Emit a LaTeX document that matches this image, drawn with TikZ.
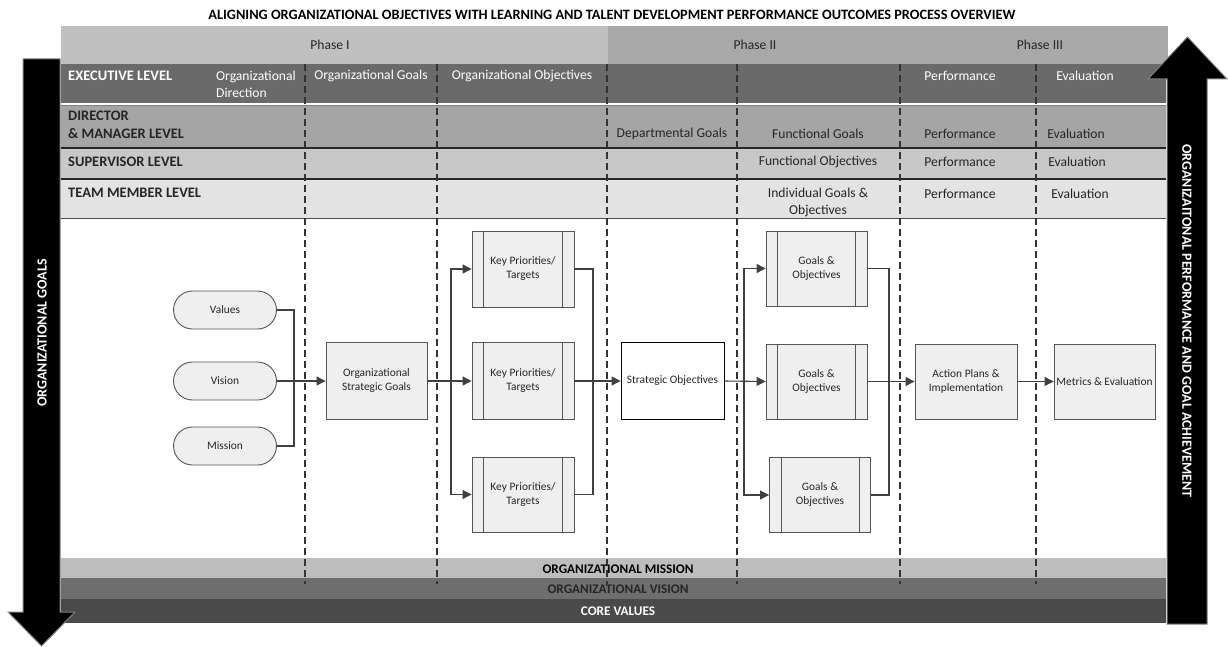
\documentclass[tikz,border=0pt]{standalone}
\usepackage{fontspec}
\setmainfont{Carlito}
\usetikzlibrary{arrows.meta,calc}
\definecolor{phaseA}{HTML}{C0C0C0}
\definecolor{phaseB}{HTML}{A8A8A8}
\definecolor{execC}{HTML}{6A6A6A}
\definecolor{dirC}{HTML}{A5A5A5}
\definecolor{supC}{HTML}{C8C8C8}
\definecolor{teamC}{HTML}{E3E3E3}
\definecolor{missC}{HTML}{BDBDBD}
\definecolor{visC}{HTML}{6E6E6E}
\definecolor{coreC}{HTML}{4A4A4A}
\definecolor{lineC}{HTML}{404040}
\definecolor{boxC}{HTML}{EFEFEF}
\definecolor{boxD}{HTML}{555555}
\definecolor{txtC}{HTML}{262626}
\definecolor{sepC}{HTML}{333333}
\tikzset{
  hdr/.style={font=\fontsize{13.6}{17}\selectfont, text=txtC, inner sep=0pt, align=center},
  hdrw/.style={hdr, text=white},
  lvl/.style={font=\bfseries\fontsize{14.5}{18}\selectfont, text=txtC, inner sep=0pt, anchor=west, align=left},
  band/.style={font=\bfseries\fontsize{13.2}{14}\selectfont, inner sep=0pt},
  flow/.style={draw=lineC, line width=1.1pt},
  arr/.style={flow, -{Triangle[length=9pt,width=9pt]}},
  box/.style={draw=boxD, fill=boxC, line width=0.9pt, minimum width=102pt, minimum height=76pt, align=center, font=\fontsize{11.4}{14}\selectfont, inner sep=1pt, text=txtC},
  term/.style={box, rounded corners=19pt, minimum width=103pt, minimum height=38pt},
  sepline/.style={draw=sepC, line width=1.1pt, dash pattern=on 7pt off 4pt},
  bigarrow/.style={fill=black, draw=gray, line width=1pt},
  arrtext/.style={font=\bfseries\fontsize{14}{15}\selectfont, text=white, inner sep=0pt},
}
\newcommand{\subbars}[1]{\draw[draw=boxD, line width=0.9pt] ([xshift=12pt]#1.north west) -- ([xshift=12pt]#1.south west) ([xshift=-12pt]#1.north east) -- ([xshift=-12pt]#1.south east);}
\begin{document}
\begin{tikzpicture}[x=1pt,y=-1pt]
\useasboundingbox (0,0) rectangle (1228,647);
% title
\node[font=\bfseries\fontsize{14.3}{16}\selectfont, inner sep=0pt] (title) at (612,15) {ALIGNING ORGANIZATIONAL OBJECTIVES WITH LEARNING AND TALENT DEVELOPMENT PERFORMANCE OUTCOMES PROCESS OVERVIEW};
% phase bar
\fill[phaseA] (61,26) rectangle (608,64);
\fill[phaseB] (608,26) rectangle (1168,64);
\node[hdr] (ph1) at (330,45) {Phase I};
\node[hdr] (ph2) at (755,45) {Phase II};
\node[hdr] (ph3) at (1040,45) {Phase III};
% rows
\fill[execC] (61,64) rectangle (1166,104);
\fill[dirC] (61,104) rectangle (1166,148);
\fill[supC] (61,148) rectangle (1166,179);
\fill[teamC] (61,179) rectangle (1166,218);
\fill[white] (61,218) rectangle (1166,558);
\fill[missC] (61,558) rectangle (1166,578);
\fill[visC] (61,578) rectangle (1166,599);
\fill[coreC] (61,599) rectangle (1166,623);
\draw[white, line width=2.5pt] (61,104) -- (1166,104);
\draw[gray, line width=0.6pt] (61,105.8) -- (1166,105.8);
\draw[black!85, line width=2pt] (61,148) -- (1166,148);
\draw[black!85, line width=2pt] (61,179) -- (1166,179);
\draw[black!70, line width=0.8pt] (61,218) -- (1166,218);
% column separators
\foreach \cx in {305,437,607,737,900,1036}
  \draw[sepline] (\cx,64) -- (\cx,584);
% executive row
\node[lvl, text=white] (ex) at (68,76) {EXECUTIVE LEVEL};
\node[hdrw, anchor=north west, align=left] (exd) at (216,70.5) {Organizational\\Direction};
\node[hdrw] (exg) at (371,76) {Organizational Goals};
\node[hdrw] (exo) at (522,76) {Organizational Objectives};
\node[hdrw] (exp) at (960,76) {Performance};
\node[hdrw] (exe) at (1085,76) {Evaluation};
% director row
\node[lvl] (dr) at (68,125) {DIRECTOR\\\& MANAGER LEVEL};
\node[hdr] (drd) at (672,134) {Departmental Goals};
\node[hdr] (drf) at (818,134) {Functional Goals};
\node[hdr] (drp) at (960,134) {Performance};
\node[hdr] (dre) at (1076,134) {Evaluation};
% supervisor row
\node[lvl] (sv) at (68,162) {SUPERVISOR LEVEL};
\node[hdr] (svf) at (818,162) {Functional Objectives};
\node[hdr] (svp) at (960,162) {Performance};
\node[hdr] (sve) at (1077,162) {Evaluation};
% team row
\node[lvl] (tm) at (68,193) {TEAM MEMBER LEVEL};
\node[hdr] (tmi) at (818,202.5) {Individual Goals \&\\Objectives};
\node[hdr] (tmp) at (960,194) {Performance};
\node[hdr] (tme) at (1080,194) {Evaluation};
% bottom bands text
\node[band, text=black] (bm) at (618,569) {ORGANIZATIONAL MISSION};
\node[band, text=black!85] (bv) at (618,589) {ORGANIZATIONAL VISION};
\node[band, text=white] (bc) at (618,611) {CORE VALUES};
% flow nodes
\node[term] (values) at (225,310) {Values};
\node[term] (vision) at (225,381) {Vision};
\node[term] (mission) at (225,446) {Mission};
\node[box, minimum width=101pt, minimum height=77pt] (osg) at (376.5,381) {Organizational\\Strategic Goals};
\node[box] (kp1) at (523,269) {Key Priorities/\\Targets};
\node[box, minimum height=77pt] (kp2) at (523,381) {Key Priorities/\\Targets};
\node[box, minimum height=75pt] (kp3) at (523,494.5) {Key Priorities/\\Targets};
\subbars{kp1}\subbars{kp2}\subbars{kp3}
\node[box, fill=white, draw=black, minimum width=103pt, minimum height=77pt] (so) at (672.5,381) {Strategic Objectives};
\node[box, minimum width=101pt, minimum height=75pt] (g1) at (816.5,268.5) {Goals \&\\Objectives};
\node[box, minimum width=101pt, minimum height=75pt] (g2) at (816.5,381.5) {Goals \&\\Objectives};
\node[box, minimum width=101pt, minimum height=75pt] (g3) at (820,495) {Goals \&\\Objectives};
\subbars{g1}\subbars{g2}\subbars{g3}
\node[box, minimum width=102pt, minimum height=75pt] (ap) at (966,381.5) {Action Plans \&\\Implementation};
\node[box, minimum width=101pt, minimum height=75pt] (me) at (1104.5,381.5) {Metrics \& Evaluation};
% junctions
\coordinate (j1) at (294,381);
\coordinate (j2) at (451,381);
\coordinate (j3) at (593,381);
\coordinate (j4) at (744,381);
\coordinate (j5) at (889,381);
% connectors
\draw[flow] (values.east) -| (j1);
\draw[flow] (mission.east) -| (j1);
\draw[arr] (vision.east) -- (osg.west);
\draw[arr] (osg.east) -- (kp2.west);
\draw[arr] (j2) |- (kp1.west);
\draw[arr] (j2) |- (kp3.west);
\draw[flow] (kp1.east) -| (j3);
\draw[flow] (kp3.east) -| (j3);
\draw[arr] (kp2.east) -- (so.west);
\draw[arr] (so.east) -- (g2.west);
\draw[arr] (j4) |- (g1.west);
\draw[arr] (j4) |- (g3.west);
\draw[flow] (g1.east) -| (j5);
\draw[flow] (g3.east) -| (j5);
\draw[arr] (g2.east) -- (ap.west);
\draw[arr] (ap.east) -- (me.west);
% big arrows
\draw[bigarrow] (23,59) -- (60,59) -- (60,612) -- (75,612) -- (41.5,646) -- (8,612) -- (23,612) -- cycle;
\node[arrtext, rotate=90] (lt) at (42,333) {ORGANIZATIONAL GOALS};
\draw[bigarrow] (1167,624) -- (1167,79) -- (1148,79) -- (1187.5,37) -- (1227,79) -- (1207,79) -- (1207,624) -- cycle;
\node[arrtext, rotate=-90] (rt) at (1187,321) {ORGANIZAITONAL PERFORMANCE AND GOAL ACHIEVEMENT};
\end{tikzpicture}
\end{document}
